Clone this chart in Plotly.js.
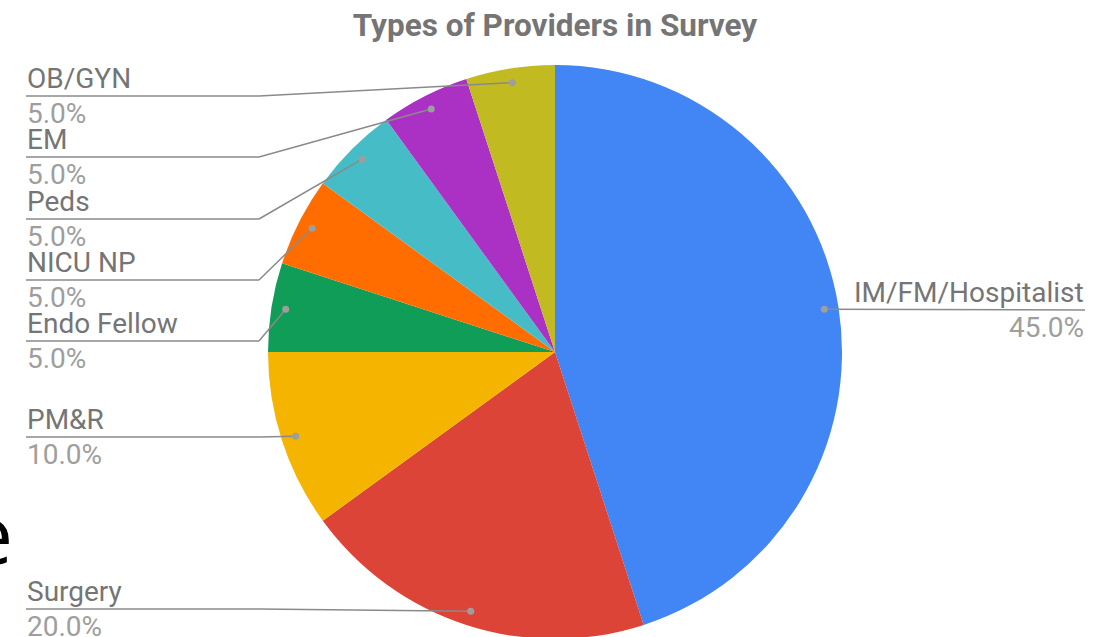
<!DOCTYPE html>
<html>
<head>
<meta charset="utf-8">
<script src="https://cdn.plot.ly/plotly-3.0.1.min.js"></script>
<style>
  html, body { margin: 0; padding: 0; overflow: hidden; background: #fff; }
  #chart { width: 1094px; height: 640px; }
</style>
</head>
<body>
<div id="chart"></div>
<script>
// Survey respondents by provider type (percent of total)
const categories = ["IM/FM/Hospitalist", "Surgery", "PM&R", "Endo Fellow", "NICU NP", "Peds", "EM", "OB/GYN"];
const shares = [45, 20, 10, 5, 5, 5, 5, 5];
const sliceColors = ["#4285F4", "#DB4437", "#F4B400", "#0F9D58", "#FF6D00", "#46BDC6", "#AB30C4", "#C2BA21"];

// Page geometry (pixels)
const W = 1094, H = 640;
const CX = 555, CY = 352, R = 287;
const px = x => x / W;
const py = y => 1 - y / H;

// Where each callout's horizontal rule sits
const calloutRuleY = [310, 609, 437, 341, 280, 219, 157, 96];
const LEFT_X = 26, ELBOW_X = 259, RIGHT_X = 1085;

const total = shares.reduce((a, b) => a + b, 0);
const shapes = [];
const annotations = [];
let cum = 0;
shares.forEach((v, i) => {
  const mid = (cum + v / 2) / total * 2 * Math.PI; // clockwise from 12 o'clock
  cum += v;
  const dx = CX + 0.95 * R * Math.sin(mid);
  const dy = CY - 0.95 * R * Math.cos(mid);
  const ry = calloutRuleY[i];
  const right = Math.sin(mid) > 0;
  const lineStyle = { color: "#8a8a8a", width: 1.5 };
  if (right) {
    shapes.push({ type: "line", xref: "paper", yref: "paper", x0: px(dx), y0: py(dy), x1: px(RIGHT_X), y1: py(ry), line: lineStyle });
  } else {
    shapes.push({ type: "line", xref: "paper", yref: "paper", x0: px(LEFT_X), y0: py(ry), x1: px(ELBOW_X), y1: py(ry), line: lineStyle });
    shapes.push({ type: "line", xref: "paper", yref: "paper", x0: px(ELBOW_X), y0: py(ry), x1: px(dx), y1: py(dy), line: lineStyle });
  }
  shapes.push({ type: "circle", xref: "paper", yref: "paper",
    x0: px(dx - 3.5), x1: px(dx + 3.5), y0: py(dy + 3.5), y1: py(dy - 3.5),
    fillcolor: "#9e9e9e", line: { width: 0 } });

  const ax = right ? RIGHT_X : LEFT_X;
  const anchor = right ? "right" : "left";
  annotations.push({ xref: "paper", yref: "paper", x: px(ax), y: py(ry), xanchor: anchor, yanchor: "bottom",
    text: categories[i], showarrow: false, borderpad: 0,
    font: { family: "Roboto", size: 28, color: "#757575" } });
  annotations.push({ xref: "paper", yref: "paper", x: px(ax), y: py(ry), xanchor: anchor, yanchor: "top",
    text: v.toFixed(1) + "%", showarrow: false, borderpad: 0,
    font: { family: "Roboto", size: 28, color: "#9e9e9e" } });
});

// Fragment of slide lettering at the left edge
annotations.push({ xref: "paper", yref: "paper", x: px(14), y: py(532), xanchor: "right", yanchor: "middle",
  text: "e", showarrow: false, borderpad: 0, font: { family: "Open Sans", size: 80, color: "#000" } });

const data = [{
  type: "pie",
  labels: categories,
  values: shares,
  sort: false,
  direction: "clockwise",
  rotation: 0,
  textinfo: "none",
  hoverinfo: "none",
  marker: { colors: sliceColors, line: { width: 0 } },
  domain: { x: [px(CX - R), px(CX + R)], y: [py(CY + R), py(CY - R)] },
  showlegend: false
}];

const layout = {
  width: W, height: H,
  margin: { l: 0, r: 0, t: 0, b: 0 },
  paper_bgcolor: "#fff",
  title: { text: "<b>Types of Providers in Survey</b>", x: px(555), xanchor: "center", y: py(25), yanchor: "middle",
    font: { family: "Roboto", size: 31.5, color: "#757575" } },
  shapes: shapes,
  annotations: annotations
};

Plotly.newPlot("chart", data, layout, { staticPlot: true, displayModeBar: false });
</script>
</body>
</html>
